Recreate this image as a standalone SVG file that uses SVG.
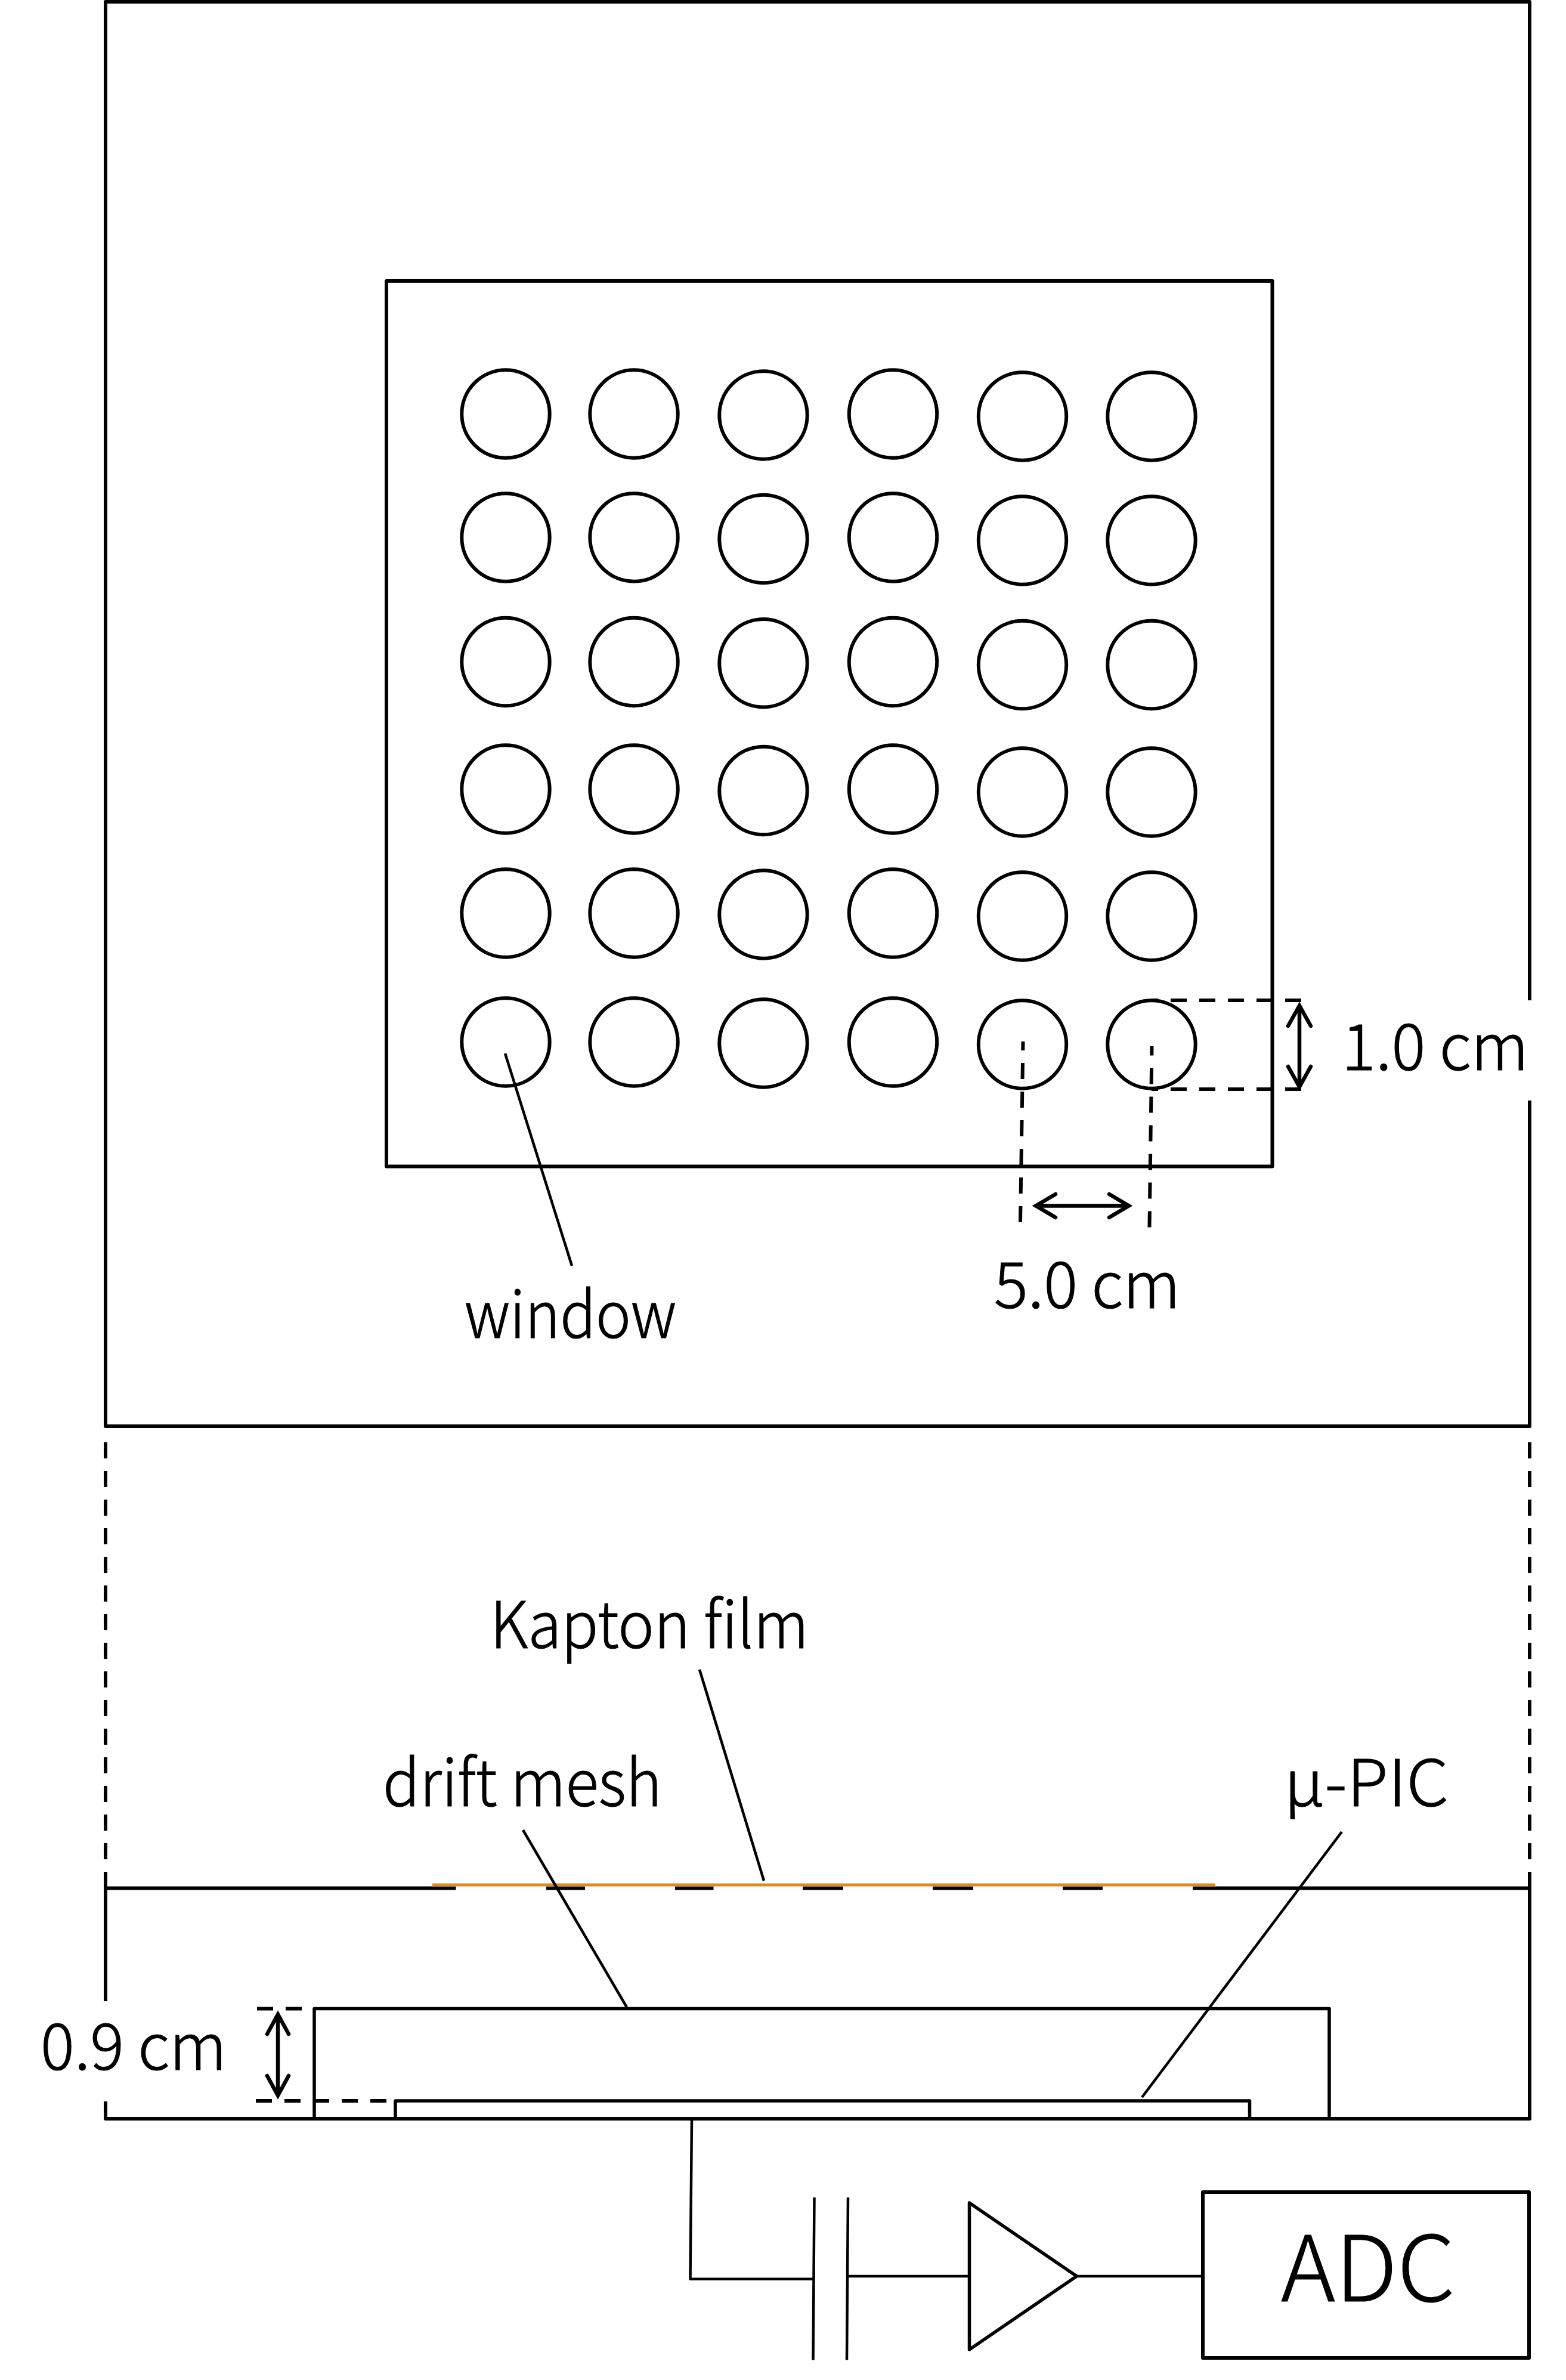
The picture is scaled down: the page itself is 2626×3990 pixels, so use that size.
<svg xmlns="http://www.w3.org/2000/svg" width="2626" height="3990" viewBox="0 0 2626 3990">
<style>
.b{fill:none;stroke:#000;stroke-width:6;stroke-linejoin:round;stroke-linecap:butt}
.m{fill:none;stroke:#000;stroke-width:5.5;stroke-linejoin:round}
.t{fill:none;stroke:#000;stroke-width:4.5;stroke-linejoin:round}
.d{fill:none;stroke:#000;stroke-width:6;stroke-dasharray:27 21}
.w{fill:none;stroke:#000;stroke-width:6.500;stroke-linejoin:miter;stroke-linecap:round}
.c{fill:none;stroke:#000;stroke-width:6}
text{font-family:"Noto Sans CJK JP","Noto Sans",sans-serif;font-weight:300;fill:#000;stroke:#000;stroke-width:1.200}
.l{font-size:108px}
.a{font-size:152px}
</style>
<rect width="2626" height="3990" fill="#fff"/>
<g id="top-plate">
<path class="b" d="M2565 1677V3H177V2391H2565V1845"/>
</g>
<g id="window-frame"><rect class="b" x="648" y="471" width="1485.500" height="1484.500"/></g>
<g id="windows">
<circle class="c" cx="848" cy="694" r="73.700"/><circle class="c" cx="1063" cy="694" r="73.700"/><circle class="c" cx="1280" cy="696" r="73.700"/><circle class="c" cx="1497.500" cy="694" r="73.700"/><circle class="c" cx="1714.500" cy="698" r="73.700"/><circle class="c" cx="1931" cy="698" r="73.700"/>
<circle class="c" cx="848" cy="901" r="73.700"/><circle class="c" cx="1063" cy="901" r="73.700"/><circle class="c" cx="1280" cy="903.500" r="73.700"/><circle class="c" cx="1497.500" cy="901" r="73.700"/><circle class="c" cx="1714.500" cy="906" r="73.700"/><circle class="c" cx="1931" cy="906" r="73.700"/>
<circle class="c" cx="848" cy="1109.500" r="73.700"/><circle class="c" cx="1063" cy="1109.500" r="73.700"/><circle class="c" cx="1280" cy="1111.700" r="73.700"/><circle class="c" cx="1497.500" cy="1109.500" r="73.700"/><circle class="c" cx="1714.500" cy="1114.500" r="73.700"/><circle class="c" cx="1931" cy="1114.500" r="73.700"/>
<circle class="c" cx="848" cy="1323" r="73.700"/><circle class="c" cx="1063" cy="1323" r="73.700"/><circle class="c" cx="1280" cy="1325.500" r="73.700"/><circle class="c" cx="1497.500" cy="1323" r="73.700"/><circle class="c" cx="1714.500" cy="1328" r="73.700"/><circle class="c" cx="1931" cy="1328" r="73.700"/>
<circle class="c" cx="848" cy="1531" r="73.700"/><circle class="c" cx="1063" cy="1531" r="73.700"/><circle class="c" cx="1280" cy="1533" r="73.700"/><circle class="c" cx="1497.500" cy="1531" r="73.700"/><circle class="c" cx="1714.500" cy="1536" r="73.700"/><circle class="c" cx="1931" cy="1536" r="73.700"/>
<circle class="c" cx="848" cy="1747" r="73.700"/><circle class="c" cx="1063" cy="1747" r="73.700"/><circle class="c" cx="1280" cy="1749" r="73.700"/><circle class="c" cx="1497.500" cy="1747" r="73.700"/><circle class="c" cx="1714.500" cy="1751" r="73.700"/><circle class="c" cx="1931" cy="1751" r="73.700"/>
</g>
<g id="lower-box">
<path class="b" d="M177 3355V3165.500H764.500M916 3165.500H981M1132 3165.500H1196.500M1346 3165.500H1414M1564 3165.500H1632M1782 3165.500H1849M2000 3165.500H2565V3552H177V3523"/>
<path d="M725 3160H2038" fill="none" stroke="#df8a1a" stroke-width="5"/>
</g>
<g id="drift-mesh"><path class="m" d="M527 3552V3367.500H2229V3552"/></g>
<g id="u-pic"><path class="m" d="M663 3552V3522H2095.500V3552"/></g>
<g id="capacitor"><path class="t" d="M1365.500 3684L1363.500 3956.500M1422 3684L1420 3956.500"/></g>
<g id="amplifier"><path class="m" d="M1625.500 3693V3939L1805.500 3816Z"/></g>
<g id="adc"><rect class="b" x="2017" y="3675" width="547" height="278"/>
<text class="a" x="2148" y="3858" textLength="292" lengthAdjust="spacingAndGlyphs">ADC</text></g>
<g id="labels">
<text class="l" x="1667" y="2193" textLength="312" lengthAdjust="spacingAndGlyphs">5.0 cm</text>
<text class="l" x="2250" y="1794" textLength="313" lengthAdjust="spacingAndGlyphs">1.0 cm</text>
<text class="l" x="779" y="2243" textLength="355" lengthAdjust="spacingAndGlyphs">window</text>
<text class="l" x="822" y="2763" textLength="534" lengthAdjust="spacingAndGlyphs">Kapton film</text>
<text class="l" x="642" y="3028" textLength="468" lengthAdjust="spacingAndGlyphs">drift mesh</text>
<text class="l" x="2153" y="3028" textLength="276" lengthAdjust="spacingAndGlyphs">μ-PIC</text>
<text class="l" x="68" y="3470" textLength="312" lengthAdjust="spacingAndGlyphs">0.9 cm</text>
</g>
<g id="connectors">
<path class="d" d="M177 3165V2412M2565 3165V2412"/>
<path class="d" d="M2182 1677H1931M2182 1826H1931"/>
<path class="d" d="M1711 2049L1715.500 1746M1927.500 2057.500L1931.500 1754"/>
<path class="d" d="M431 3367.500H527M429 3522H668"/>
<path class="w" d="M2179 1686V1821M2160 1720L2179 1686L2198 1720M2160 1788L2179 1822L2198 1788"/>
<path class="w" d="M1737 2021.500H1893M1770 2002L1737 2021.500L1770 2041M1860 2002L1893 2021.500L1860 2041"/>
<path class="w" d="M466 3378V3512M448 3410L466 3377L484 3410M448 3480L466 3513L484 3480"/>
<path class="t" d="M847 1766L959 2122"/>
<path class="t" d="M1173 2799L1281 3153"/>
<path class="t" d="M877 3068L1051 3365"/>
<path class="t" d="M2250 3071L1915 3516"/>
<path class="t" d="M1160 3552L1157.500 3820.700H1363.500"/>
<path class="t" d="M1422 3816H1625.500"/>
<path class="t" d="M1805.500 3816H2017"/>
</g>
</svg>
